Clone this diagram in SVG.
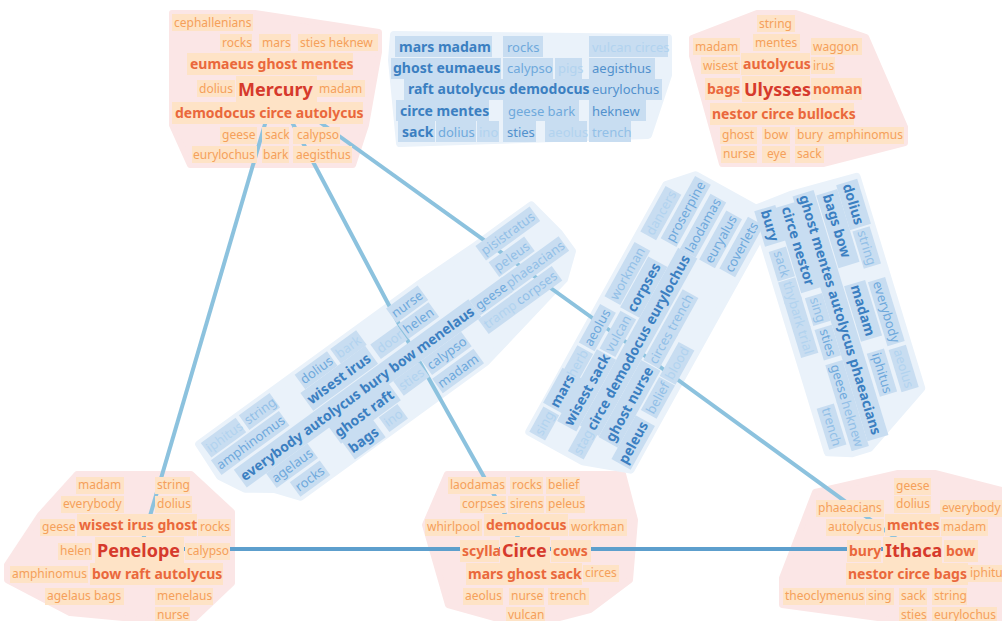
<svg xmlns="http://www.w3.org/2000/svg" width="1002" height="621" viewBox="0 0 1002 621">
<style>
text{font-family:"Noto Sans","Open Sans",sans-serif}
.hp{fill:#fbe6e6;stroke:#fbe6e6;stroke-width:6;stroke-linejoin:round}
.hb{fill:#eaf2fa;stroke:#eaf2fa;stroke-width:8;stroke-linejoin:round}
.bp{fill:#fee3c6}
.bb{fill:#c8ddf1}
.s{font-size:12px;fill:#f5a05a}
.m{font-size:14px;font-weight:bold;fill:#ea683c}
.L{font-size:18px;font-weight:bold;fill:#d63a2c}
.d{font-size:14px;font-weight:bold;fill:#3b7fc1}
.k{font-size:13px;fill:#5291cd}
.n{font-size:13px;fill:#6fa9dc}
.l{font-size:13px;fill:#93c0e7}
.v{font-size:13px;fill:#b2d3ef}
.e{fill:none;stroke:#8cc2de;stroke-width:4}
.e2{fill:none;stroke:#5d9fcd;stroke-width:4}
</style>

<!-- cluster outlines -->
<g id="outlines">
<polygon class="hp" points="172,13 255,13 379,32 379,52 366,125 353,165 190,165 172,125"/>
<polygon class="hp" points="692,38 757,13 796,13 866,37 905,127 905,143 823,164 722,164 692,56"/>
<polygon class="hp" points="77,474 191,474 232,512 232,583 192,621 155,621 70,613 7,580 7,565 40,515"/>
<polygon class="hp" points="447,474 623,474 635,520 630,580 590,610 548,621 505,621 448,605 425,525"/>
<polygon class="hp" points="898,473 935,473 1002,490 1002,621 900,621 782,605 782,578 815,492"/>
<polygon class="hb" points="394,35 668,38 668,75 648,135 400,143 392,60"/>
<polygon class="hb" transform="translate(400,365) rotate(-36)" points="-209,-54 63,-54 131,-52 200,-52 206,-13 206,9 183,27 71,48 -158,48 -174,27 -198,9 -211,-16"/>
<polygon class="hb" transform="translate(627,367) rotate(-61)" points="-104,-54 178,-54 201,-33 201,51 192,53 -88,53 -104,7"/>
<polygon class="hb" transform="translate(825,265) rotate(73)" points="-75,-56 146,-56 188,11 188,29 180,52 -74,52 -77,11"/>
</g>

<!-- connectors -->
<g id="connectors">
<line class="e" x1="275" y1="90" x2="140" y2="550"/>
<line class="e" x1="275" y1="90" x2="410" y2="345"/>
<line class="e" x1="275" y1="90" x2="630" y2="345"/>
<line class="e" x1="410" y1="345" x2="525" y2="550"/>
<line class="e" x1="630" y1="345" x2="912" y2="550"/>
<line class="e2" x1="140" y1="549" x2="525" y2="549"/>
<line class="e2" x1="525" y1="549" x2="912" y2="549"/>
</g>

<!-- Mercury -->
<g id="mercury">
<rect class="bp" x="172" y="14" width="81" height="17"/>
<rect class="bp" x="220" y="34" width="32" height="17"/>
<rect class="bp" x="259" y="34" width="32" height="17"/>
<rect class="bp" x="298" y="34" width="80" height="17"/>
<rect class="bp" x="187" y="53" width="166" height="22"/>
<rect class="bp" x="197" y="80" width="38" height="17"/>
<rect class="bp" x="236" y="76" width="81" height="26"/>
<rect class="bp" x="317" y="80" width="48" height="17"/>
<rect class="bp" x="172" y="102" width="191" height="22"/>
<rect class="bp" x="220" y="127" width="37" height="17"/>
<rect class="bp" x="262" y="127" width="27" height="17"/>
<rect class="bp" x="293" y="127" width="47" height="17"/>
<rect class="bp" x="192" y="146" width="65" height="17"/>
<rect class="bp" x="262" y="146" width="27" height="17"/>
<rect class="bp" x="293" y="146" width="59" height="17"/>
<text class="s" x="174" y="27">cephallenians</text>
<text class="s" x="222" y="47">rocks</text>
<text class="s" x="262" y="47">mars</text>
<text class="s" x="300" y="47">sties heknew</text>
<text class="m" x="190" y="69">eumaeus ghost mentes</text>
<text class="s" x="199" y="93">dolius</text>
<text class="L" x="238" y="95.5">Mercury</text>
<text class="s" x="319" y="93">madam</text>
<text class="m" x="175" y="118">demodocus circe autolycus</text>
<text class="s" x="222" y="139">geese</text>
<text class="s" x="265" y="139">sack</text>
<text class="s" x="297" y="139">calypso</text>
<text class="s" x="193" y="159">eurylochus</text>
<text class="s" x="263" y="159">bark</text>
<text class="s" x="296" y="159">aegisthus</text>
</g>

<!-- Ulysses -->
<g id="ulysses">
<rect class="bp" x="757" y="15" width="38" height="17"/>
<rect class="bp" x="693" y="38" width="47" height="17"/>
<rect class="bp" x="753" y="34" width="47" height="17"/>
<rect class="bp" x="811" y="38" width="51" height="17"/>
<rect class="bp" x="701" y="57" width="39" height="17"/>
<rect class="bp" x="741" y="53" width="69" height="22"/>
<rect class="bp" x="811" y="57" width="24" height="17"/>
<rect class="bp" x="705" y="78" width="35" height="22"/>
<rect class="bp" x="742" y="76" width="68" height="26"/>
<rect class="bp" x="811" y="78" width="51" height="22"/>
<rect class="bp" x="710" y="103" width="144" height="22"/>
<rect class="bp" x="720" y="127" width="37" height="17"/>
<rect class="bp" x="762" y="127" width="28" height="17"/>
<rect class="bp" x="795" y="127" width="109" height="17"/>
<rect class="bp" x="721" y="146" width="36" height="17"/>
<rect class="bp" x="762" y="146" width="28" height="17"/>
<rect class="bp" x="795" y="146" width="29" height="17"/>
<text class="s" x="759" y="28">string</text>
<text class="s" x="695" y="51">madam</text>
<text class="s" x="755" y="47">mentes</text>
<text class="s" x="813" y="51">waggon</text>
<text class="s" x="703" y="70">wisest</text>
<text class="m" x="743" y="69">autolycus</text>
<text class="s" x="813" y="70">irus</text>
<text class="m" x="707" y="94">bags</text>
<text class="L" x="744" y="95.5">Ulysses</text>
<text class="m" x="813" y="94">noman</text>
<text class="m" x="712" y="119">nestor circe bullocks</text>
<text class="s" x="722" y="139">ghost</text>
<text class="s" x="764" y="139">bow</text>
<text class="s" x="797" y="139">bury</text>
<text class="s" x="828" y="139">amphinomus</text>
<text class="s" x="723" y="158">nurse</text>
<text class="s" x="767" y="158">eye</text>
<text class="s" x="797" y="158">sack</text>
</g>

<!-- Penelope -->
<g id="penelope">
<rect class="bp" x="76" y="477" width="48" height="17"/>
<rect class="bp" x="155" y="477" width="35" height="17"/>
<rect class="bp" x="61" y="496" width="63" height="17"/>
<rect class="bp" x="155" y="496" width="37" height="17"/>
<rect class="bp" x="40" y="519" width="35" height="17"/>
<rect class="bp" x="77" y="514" width="120" height="22"/>
<rect class="bp" x="198" y="519" width="33" height="17"/>
<rect class="bp" x="58" y="543" width="34" height="17"/>
<rect class="bp" x="95" y="537" width="89" height="26"/>
<rect class="bp" x="185" y="543" width="45" height="17"/>
<rect class="bp" x="10" y="566" width="78" height="17"/>
<rect class="bp" x="90" y="563" width="133" height="22"/>
<rect class="bp" x="45" y="588" width="79" height="17"/>
<rect class="bp" x="155" y="588" width="58" height="17"/>
<rect class="bp" x="155" y="607" width="35" height="17"/>
<text class="s" x="78" y="489">madam</text>
<text class="s" x="157" y="489">string</text>
<text class="s" x="63" y="508">everybody</text>
<text class="s" x="157" y="508">dolius</text>
<text class="s" x="42" y="531">geese</text>
<text class="m" x="79" y="530">wisest irus ghost</text>
<text class="s" x="200" y="531">rocks</text>
<text class="s" x="60" y="555">helen</text>
<text class="L" x="97" y="556.5">Penelope</text>
<text class="s" x="187" y="555">calypso</text>
<text class="s" x="12" y="578">amphinomus</text>
<text class="m" x="92" y="579">bow raft autolycus</text>
<text class="s" x="47" y="600">agelaus bags</text>
<text class="s" x="157" y="600">menelaus</text>
<text class="s" x="157" y="619">nurse</text>
</g>

<!-- Circe -->
<g id="circe">
<rect class="bp" x="448" y="477" width="58" height="17"/>
<rect class="bp" x="510" y="477" width="33" height="17"/>
<rect class="bp" x="546" y="477" width="34" height="17"/>
<rect class="bp" x="460" y="496" width="46" height="17"/>
<rect class="bp" x="508" y="496" width="36" height="17"/>
<rect class="bp" x="546" y="496" width="39" height="17"/>
<rect class="bp" x="425" y="519" width="57" height="17"/>
<rect class="bp" x="484" y="514" width="84" height="22"/>
<rect class="bp" x="569" y="519" width="58" height="17"/>
<rect class="bp" x="460" y="540" width="39" height="22"/>
<rect class="bp" x="500" y="537" width="50" height="26"/>
<rect class="bp" x="551" y="540" width="40" height="22"/>
<rect class="bp" x="466" y="563" width="116" height="22"/>
<rect class="bp" x="583" y="565" width="36" height="17"/>
<rect class="bp" x="463" y="588" width="40" height="17"/>
<rect class="bp" x="509" y="588" width="35" height="17"/>
<rect class="bp" x="548" y="588" width="41" height="17"/>
<rect class="bp" x="506" y="607" width="39" height="17"/>
<text class="s" x="450" y="489">laodamas</text>
<text class="s" x="512" y="489">rocks</text>
<text class="s" x="548" y="489">belief</text>
<text class="s" x="462" y="508">corpses</text>
<text class="s" x="510" y="508">sirens</text>
<text class="s" x="548" y="508">peleus</text>
<text class="s" x="427" y="531">whirlpool</text>
<text class="m" x="486" y="530">demodocus</text>
<text class="s" x="571" y="531">workman</text>
<text class="m" x="462" y="556">scylla</text>
<text class="L" x="502" y="556.5">Circe</text>
<text class="m" x="553" y="556">cows</text>
<text class="m" x="468" y="579">mars ghost sack</text>
<text class="s" x="585" y="577">circes</text>
<text class="s" x="465" y="600">aeolus</text>
<text class="s" x="511" y="600">nurse</text>
<text class="s" x="550" y="600">trench</text>
<text class="s" x="508" y="619">vulcan</text>
</g>

<!-- Ithaca -->
<g id="ithaca">
<rect class="bp" x="894" y="478" width="37" height="17"/>
<rect class="bp" x="816" y="500" width="68" height="17"/>
<rect class="bp" x="894" y="496" width="37" height="17"/>
<rect class="bp" x="940" y="500" width="62" height="17"/>
<rect class="bp" x="826" y="519" width="58" height="17"/>
<rect class="bp" x="885" y="514" width="55" height="22"/>
<rect class="bp" x="941" y="519" width="47" height="17"/>
<rect class="bp" x="847" y="540" width="34" height="22"/>
<rect class="bp" x="883" y="537" width="59" height="26"/>
<rect class="bp" x="944" y="540" width="34" height="22"/>
<rect class="bp" x="846" y="563" width="122" height="22"/>
<rect class="bp" x="968" y="565" width="40" height="17"/>
<rect class="bp" x="783" y="588" width="82" height="17"/>
<rect class="bp" x="866" y="588" width="28" height="17"/>
<rect class="bp" x="899" y="588" width="28" height="17"/>
<rect class="bp" x="932" y="588" width="35" height="17"/>
<rect class="bp" x="899" y="607" width="28" height="17"/>
<rect class="bp" x="932" y="607" width="65" height="17"/>
<text class="s" x="896" y="490">geese</text>
<text class="s" x="818" y="512">phaeacians</text>
<text class="s" x="896" y="508">dolius</text>
<text class="s" x="942" y="512">everybody</text>
<text class="s" x="828" y="531">autolycus</text>
<text class="m" x="887" y="530">mentes</text>
<text class="s" x="943" y="531">madam</text>
<text class="m" x="849" y="556">bury</text>
<text class="L" x="885" y="556.5">Ithaca</text>
<text class="m" x="946" y="556">bow</text>
<text class="m" x="848" y="579">nestor circe bags</text>
<text class="s" x="970" y="577">iphitus</text>
<text class="s" x="785" y="600">theoclymenus</text>
<text class="s" x="868" y="600">sing</text>
<text class="s" x="901" y="600">sack</text>
<text class="s" x="934" y="600">string</text>
<text class="s" x="901" y="619">sties</text>
<text class="s" x="934" y="619">eurylochus</text>
</g>

<!-- upper word block -->
<g id="block-top">
<rect class="bb" x="395" y="36" width="97" height="21"/>
<rect class="bb" x="503" y="36" width="40" height="21"/>
<rect class="bb" x="589" y="36" width="79" height="21"/>
<rect class="bb" x="391" y="58" width="110" height="21"/>
<rect class="bb" x="503" y="58" width="50" height="21"/>
<rect class="bb" x="555" y="58" width="27" height="21"/>
<rect class="bb" x="589" y="58" width="66" height="21"/>
<rect class="bb" x="404" y="79" width="186" height="21"/>
<rect class="bb" x="589" y="79" width="73" height="21"/>
<rect class="bb" x="396" y="100" width="93" height="21"/>
<rect class="bb" x="503" y="100" width="76" height="21"/>
<rect class="bb" x="589" y="100" width="57" height="21"/>
<rect class="bb" x="398" y="121" width="37" height="21"/>
<rect class="bb" x="436" y="121" width="40" height="21"/>
<rect class="bb" x="477" y="121" width="22" height="21"/>
<rect class="bb" x="503" y="121" width="33" height="21"/>
<rect class="bb" x="545" y="121" width="42" height="21"/>
<rect class="bb" x="589" y="121" width="42" height="21"/>
<text class="d" x="399" y="52">mars madam</text>
<text class="n" x="507" y="52">rocks</text>
<text class="v" x="592" y="52">vulcan circes</text>
<text class="d" x="393" y="73">ghost eumaeus</text>
<text class="n" x="507" y="73">calypso</text>
<text class="v" x="558" y="73">pigs</text>
<text class="k" x="592" y="73">aegisthus</text>
<text class="d" x="408" y="94">raft autolycus demodocus</text>
<text class="k" x="592" y="94">eurylochus</text>
<text class="d" x="400" y="116">circe mentes</text>
<text class="n" x="508" y="116">geese bark</text>
<text class="k" x="592" y="116">heknew</text>
<text class="d" x="402" y="137">sack</text>
<text class="n" x="438" y="137">dolius</text>
<text class="v" x="479" y="137">ino</text>
<text class="k" x="507" y="137">sties</text>
<text class="v" x="548" y="137">aeolus</text>
<text class="l" x="592" y="137">trench</text>
</g>

<!-- slanted block, left -->
<g id="block-left" transform="translate(400,365) rotate(-36)">
<rect class="bb" x="-207" y="-54" width="43" height="18"/>
<rect class="bb" x="-160" y="-54" width="38" height="18"/>
<rect class="bb" x="-91" y="-54" width="40" height="18"/>
<rect class="bb" x="-47" y="-54" width="32" height="18"/>
<rect class="bb" x="22" y="-54" width="39" height="18"/>
<rect class="bb" x="131" y="-52" width="67" height="18"/>
<rect class="bb" x="-209" y="-34" width="84" height="18"/>
<rect class="bb" x="-97" y="-36" width="80" height="22"/>
<rect class="bb" x="-12" y="-34" width="33" height="18"/>
<rect class="bb" x="22" y="-34" width="38" height="18"/>
<rect class="bb" x="132" y="-31" width="44" height="18"/>
<rect class="bb" x="-196" y="-13" width="290" height="22"/>
<rect class="bb" x="94" y="-11" width="40" height="18"/>
<rect class="bb" x="132" y="-11" width="72" height="18"/>
<rect class="bb" x="-172" y="9" width="51" height="18"/>
<rect class="bb" x="-94" y="7" width="74" height="22"/>
<rect class="bb" x="-15" y="9" width="32" height="18"/>
<rect class="bb" x="20" y="9" width="49" height="18"/>
<rect class="bb" x="90" y="9" width="41" height="18"/>
<rect class="bb" x="130" y="9" width="51" height="18"/>
<rect class="bb" x="-158" y="30" width="37" height="18"/>
<rect class="bb" x="-92" y="28" width="38" height="22"/>
<rect class="bb" x="-48" y="30" width="23" height="18"/>
<rect class="bb" x="18" y="30" width="51" height="18"/>
<text class="v" x="-205" y="-40.5">iphitus</text>
<text class="l" x="-158" y="-40.5">string</text>
<text class="n" x="-89" y="-40.5">dolius</text>
<text class="v" x="-45" y="-40.5">bark</text>
<text class="n" x="24" y="-40.5">nurse</text>
<text class="l" x="133" y="-38.5">pisistratus</text>
<text class="n" x="-207" y="-20.5">amphinomus</text>
<text class="d" x="-95" y="-20">wisest irus</text>
<text class="v" x="-9" y="-20.5">door</text>
<text class="n" x="24" y="-20.5">helen</text>
<text class="l" x="134" y="-17.5">peleus</text>
<text class="d" x="-194" y="3">everybody autolycus bury bow menelaus</text>
<text class="n" x="96" y="2.5">geese</text>
<text class="l" x="134" y="2.5">phaeacians</text>
<text class="n" x="-170" y="22.5">agelaus</text>
<text class="d" x="-92" y="23">ghost raft</text>
<text class="v" x="-13" y="22.5">sties</text>
<text class="n" x="22" y="22.5">calypso</text>
<text class="v" x="92" y="22.5">tramp</text>
<text class="l" x="132" y="22.5">corpses</text>
<text class="n" x="-156" y="43.5">rocks</text>
<text class="d" x="-90" y="44">bags</text>
<text class="v" x="-46" y="43.5">ino</text>
<text class="n" x="20" y="43.5">madam</text>
</g>

<!-- slanted block, middle -->
<g id="block-middle" transform="translate(627,367) rotate(-61)">
<rect class="bb" x="-104" y="-54" width="29" height="18"/>
<rect class="bb" x="-72" y="-56" width="40" height="22"/>
<rect class="bb" x="-37" y="-54" width="32" height="18"/>
<rect class="bb" x="-2" y="-54" width="44" height="18"/>
<rect class="bb" x="51" y="-54" width="62" height="18"/>
<rect class="bb" x="125" y="-54" width="52" height="18"/>
<rect class="bb" x="-81" y="-35" width="82" height="22"/>
<rect class="bb" x="3" y="-33" width="43" height="18"/>
<rect class="bb" x="49" y="-35" width="58" height="22"/>
<rect class="bb" x="129" y="-33" width="71" height="18"/>
<rect class="bb" x="-102" y="-11" width="30" height="18"/>
<rect class="bb" x="-74" y="-13" width="203" height="22"/>
<rect class="bb" x="129" y="-11" width="63" height="18"/>
<rect class="bb" x="-75" y="9" width="88" height="22"/>
<rect class="bb" x="14" y="11" width="39" height="18"/>
<rect class="bb" x="52" y="11" width="43" height="18"/>
<rect class="bb" x="129" y="11" width="56" height="18"/>
<rect class="bb" x="-88" y="31" width="50" height="22"/>
<rect class="bb" x="-31" y="33" width="38" height="18"/>
<rect class="bb" x="8" y="33" width="39" height="18"/>
<rect class="bb" x="131" y="33" width="59" height="18"/>
<text class="v" x="-102" y="-40.5">sing</text>
<text class="d" x="-70" y="-40">mars</text>
<text class="v" x="-35" y="-40.5">herb</text>
<text class="n" x="0" y="-40.5">aeolus</text>
<text class="l" x="53" y="-40.5">workman</text>
<text class="v" x="127" y="-40.5">dancers</text>
<text class="d" x="-79" y="-19">wisest sack</text>
<text class="l" x="5" y="-19.5">vulcan</text>
<text class="d" x="51" y="-19">corpses</text>
<text class="n" x="131" y="-19.5">proserpine</text>
<text class="v" x="-100" y="2.5">stag</text>
<text class="d" x="-72" y="3">circe demodocus eurylochus</text>
<text class="n" x="131" y="2.5">laodamas</text>
<text class="d" x="-73" y="25">ghost nurse</text>
<text class="l" x="16" y="24.5">circes</text>
<text class="l" x="54" y="24.5">trench</text>
<text class="n" x="131" y="24.5">euryalus</text>
<text class="d" x="-86" y="47">peleus</text>
<text class="l" x="-29" y="46.5">belief</text>
<text class="v" x="10" y="46.5">blood</text>
<text class="n" x="133" y="46.5">coverlets</text>
</g>

<!-- slanted block, right -->
<g id="block-right" transform="translate(825,265) rotate(73)">
<rect class="bb" x="-73" y="-56" width="47" height="22"/>
<rect class="bb" x="-24" y="-54" width="39" height="18"/>
<rect class="bb" x="29" y="-54" width="67" height="18"/>
<rect class="bb" x="100" y="-54" width="44" height="18"/>
<rect class="bb" x="-69" y="-34" width="76" height="22"/>
<rect class="bb" x="26" y="-34" width="58" height="22"/>
<rect class="bb" x="97" y="-32" width="45" height="18"/>
<rect class="bb" x="-75" y="-11" width="256" height="22"/>
<rect class="bb" x="-69" y="9" width="89" height="22"/>
<rect class="bb" x="26" y="11" width="29" height="18"/>
<rect class="bb" x="59" y="11" width="32" height="18"/>
<rect class="bb" x="96" y="11" width="40" height="18"/>
<rect class="bb" x="134" y="11" width="52" height="18"/>
<rect class="bb" x="-72" y="30" width="37" height="22"/>
<rect class="bb" x="-29" y="32" width="31" height="18"/>
<rect class="bb" x="3" y="32" width="23" height="18"/>
<rect class="bb" x="23" y="32" width="32" height="18"/>
<rect class="bb" x="54" y="32" width="28" height="18"/>
<rect class="bb" x="135" y="32" width="43" height="18"/>
<text class="d" x="-71" y="-40">dolius</text>
<text class="l" x="-22" y="-40.5">string</text>
<text class="n" x="31" y="-40.5">everybody</text>
<text class="v" x="102" y="-40.5">aeolus</text>
<text class="d" x="-67" y="-18">bags bow</text>
<text class="d" x="28" y="-18">madam</text>
<text class="n" x="99" y="-18.5">iphitus</text>
<text class="d" x="-73" y="5">ghost mentes autolycus phaeacians</text>
<text class="d" x="-67" y="25">circe nestor</text>
<text class="l" x="28" y="24.5">sing</text>
<text class="n" x="61" y="24.5">sties</text>
<text class="n" x="98" y="24.5">geese</text>
<text class="l" x="136" y="24.5">heknew</text>
<text class="d" x="-70" y="46">bury</text>
<text class="l" x="-27" y="45.5">sack</text>
<text class="v" x="5" y="45.5">thy</text>
<text class="v" x="25" y="45.5">bark</text>
<text class="v" x="56" y="45.5">trial</text>
<text class="l" x="137" y="45.5">trench</text>
</g>
</svg>
